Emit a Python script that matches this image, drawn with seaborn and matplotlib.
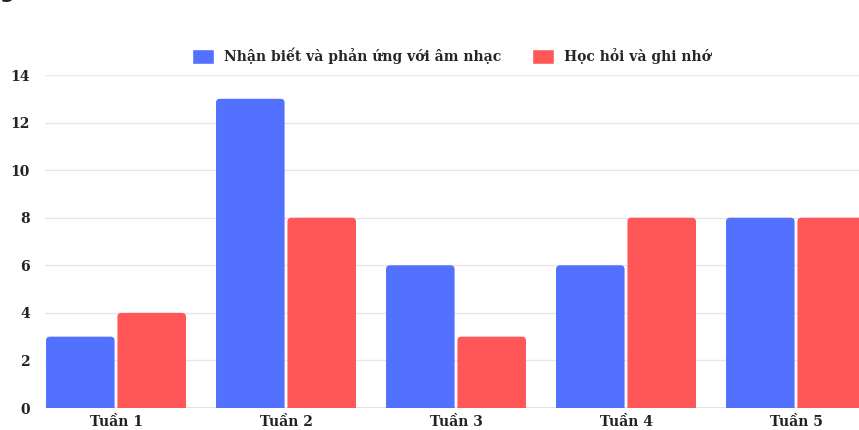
import matplotlib
matplotlib.use("Agg")
import matplotlib.pyplot as plt
from matplotlib.patches import PathPatch
from matplotlib.path import Path
import seaborn as sns
import pandas as pd

categories = ["Tuần 1", "Tuần 2", "Tuần 3", "Tuần 4", "Tuần 5"]
series_names = ["Nhận biết và phản ứng với âm nhạc", "Học hỏi và ghi nhớ"]
values_nhan_biet = [3, 13, 6, 6, 8]
values_hoc_hoi = [4, 8, 3, 8, 8]
y_ticks = [0, 2, 4, 6, 8, 10, 12, 14]
colors = ["#5271FF", "#FF5757"]

df = pd.DataFrame({
    "Tuần": categories * 2,
    "Giá trị": values_nhan_biet + values_hoc_hoi,
    "Nhóm": [series_names[0]] * len(categories) + [series_names[1]] * len(categories),
})

sns.set_theme(style="white")
FONT = ["DejaVu Serif"]
plt.rcParams["font.family"] = FONT
plt.rcParams["font.weight"] = "bold"

W, H = 859, 430
fig = plt.figure(figsize=(W / 100, H / 100), dpi=100)
left_px = 45
ax = fig.add_axes([left_px / W, (H - 408) / H, (W - left_px) / W, 333 / H])

sns.barplot(data=df, x="Tuần", y="Giá trị", hue="Nhóm", order=categories,
            hue_order=series_names, palette=colors, width=0.84, gap=0.04,
            saturation=1, ax=ax, legend=True)

# rounded top corners, built from the bars seaborn drew
x_px = 170.0
y_px = 333 / 14
r_px = 4.0
rx, ry = r_px / x_px, r_px / y_px
for p in list(ax.patches):
    x, y = p.get_x(), p.get_y()
    w, h = p.get_width(), p.get_height()
    if h <= 0:
        continue
    fc = p.get_facecolor()
    verts = [(x, y), (x, y + h - ry), (x, y + h), (x + rx, y + h),
             (x + w - rx, y + h), (x + w, y + h), (x + w, y + h - ry),
             (x + w, y), (x, y)]
    codes = [Path.MOVETO, Path.LINETO, Path.CURVE3, Path.CURVE3,
             Path.LINETO, Path.CURVE3, Path.CURVE3, Path.LINETO, Path.CLOSEPOLY]
    ax.add_patch(PathPatch(Path(verts, codes), facecolor=fc, edgecolor="none", zorder=3))
    p.set_visible(False)

ax.set_xlim(-0.5 + 14 / x_px, -0.5 + 14 / x_px + (W - left_px) / x_px)
ax.set_ylim(0, 14)
ax.set_yticks(y_ticks)
ax.set_yticklabels([str(v) for v in y_ticks], fontsize=10, fontweight="bold", color="#222222")
ax.set_xticklabels(categories, fontsize=10, fontweight="bold", color="#222222")
ax.tick_params(axis="both", length=0)
ax.tick_params(axis="y", pad=11)
ax.tick_params(axis="x", pad=5)
ax.set_xlabel("")
ax.set_ylabel("")
for s in ax.spines.values():
    s.set_visible(False)
ax.yaxis.grid(True, color="#e6e6e6", linewidth=1)
ax.set_axisbelow(True)
ax.axhline(0, color="#dddddd", linewidth=1.2, zorder=2)

handles, labels = ax.get_legend_handles_labels()
ax.get_legend().remove()
fs = 10
fpx = fs * 100 / 72
hh = (15 / fpx - 0.245) / 0.65
fig.legend(handles, labels, loc="center", bbox_to_anchor=(451.5 / W, 1 - 55.5 / H),
           ncol=2, frameon=False, handlelength=22 / fpx, handleheight=hh,
           handletextpad=10 / fpx, columnspacing=30 / fpx, borderpad=0.2,
           prop={"family": FONT, "weight": "bold", "size": fs})

# clipped text fragment at top edge
fig.text(0 / W, 1 + 2 / H, "g      .", fontsize=15, family="DejaVu Sans",
         va="baseline", ha="left", color="#222222")

fig.savefig("out.png", dpi=100)
